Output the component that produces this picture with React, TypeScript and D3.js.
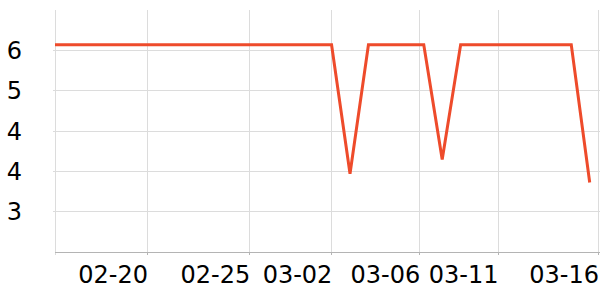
import React from "react";
import * as d3 from "d3";

const values: number[] = [
  5.68, 5.68, 5.68, 5.68, 5.68, 5.68, 5.68, 5.68, 5.68, 5.68,
  5.68, 5.68, 5.68, 5.68, 5.68, 5.68, 3.76, 5.68, 5.68, 5.68,
  5.68, 3.97, 5.68, 5.68, 5.68, 5.68, 5.68, 5.68, 5.68, 3.63,
];
const xTickPos: number[] = [4.99, 10.54, 14.99, 19.76, 24.0, 29.45];
const xTickLabels: string[] = ["02-20", "02-25", "03-02", "03-06", "03-11", "03-16"];
const yTicks: number[] = [5.6, 5.0, 4.4, 3.8, 3.2];

const W = 600;
const H = 300;
const left = 55;
const right = 598;
const top = 10;
const bottom = 252;

export default function App() {
  const x = d3.scaleLinear().domain([0, 29.45]).range([left, right]);
  const y = d3.scaleLinear().domain([2.595, 6.196]).range([bottom, top]);
  const fmt = d3.format(".0f");
  const line = d3
    .line<number>()
    .x((_, i) => x(i))
    .y((d) => y(d));

  return (
    <svg
      width={W}
      height={H}
      style={{ position: "absolute", left: 0, top: 0, background: "#fff" }}
      fontFamily="DejaVu Sans"
    >
      {yTicks.map((t) => (
        <line
          key={"gy" + t}
          x1={left - 2}
          x2={W}
          y1={Math.round(y(t)) + 0.5}
          y2={Math.round(y(t)) + 0.5}
          stroke="#dcdcdc"
          strokeWidth={1}
        />
      ))}
      {xTickPos.map((t) => (
        <line
          key={"gx" + t}
          x1={Math.round(x(t)) + 0.5}
          x2={Math.round(x(t)) + 0.5}
          y1={top}
          y2={bottom + 3}
          stroke="#dcdcdc"
          strokeWidth={1}
        />
      ))}
      <line x1={left + 0.5} x2={left + 0.5} y1={top} y2={bottom + 3} stroke="#dcdcdc" />
      <line x1={left} x2={W} y1={bottom + 0.5} y2={bottom + 0.5} stroke="#b4b4b4" strokeWidth={1} />
      {xTickPos.map((t) => (
        <line
          key={"tx" + t}
          x1={Math.round(x(t)) + 0.5}
          x2={Math.round(x(t)) + 0.5}
          y1={bottom}
          y2={bottom + 3}
          stroke="#b4b4b4"
        />
      ))}
      {yTicks.map((t) => (
        <text key={"ly" + t} x={22} y={y(t) + 9} textAnchor="end" fontSize={24} fill="#000">
          {fmt(t)}
        </text>
      ))}
      {xTickPos.map((t, i) => (
        <text key={"lx" + t} x={x(t) + 1} y={283} textAnchor="end" fontSize={24} fill="#000">
          {xTickLabels[i]}
        </text>
      ))}
      <path d={line(values) || ""} fill="none" stroke="#ee4b2b" strokeWidth={3} />
    </svg>
  );
}
